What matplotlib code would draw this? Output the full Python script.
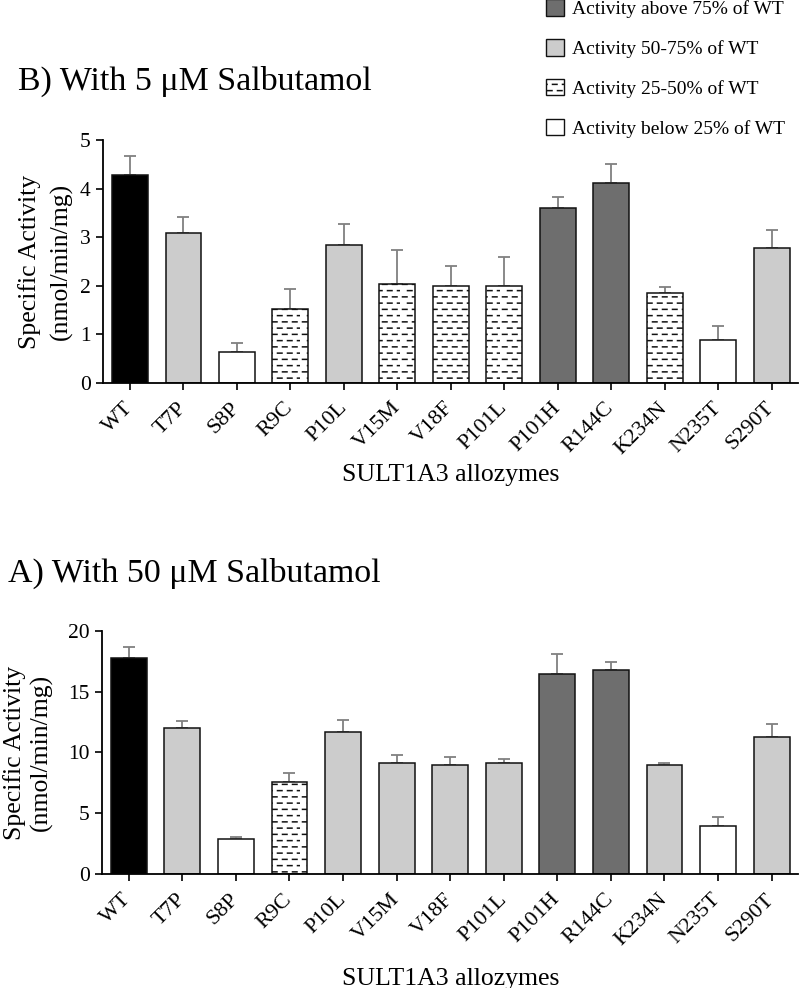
import warnings
import numpy as np
import matplotlib
matplotlib.use('Agg')
import matplotlib.pyplot as plt
from matplotlib import hatch as mhatch
from matplotlib.path import Path
from matplotlib.patches import Patch

warnings.filterwarnings('ignore')

allozymes = ['WT', 'T7P', 'S8P', 'R9C', 'P10L', 'V15M', 'V18F', 'P101L',
             'P101H', 'R144C', 'K234N', 'N235T', 'S290T']

# 5 uM salbutamol (panel B)
act_5 = [4.28, 3.09, 0.64, 1.52, 2.83, 2.04, 2.00, 2.00, 3.60, 4.12, 1.85, 0.88, 2.78]
err_5 = [0.39, 0.33, 0.19, 0.41, 0.44, 0.70, 0.41, 0.59, 0.23, 0.38, 0.13, 0.29, 0.37]
grp_5 = ['wt', 'mid', 'low', 'q', 'mid', 'q', 'q', 'q', 'high', 'high', 'q', 'low', 'mid']

# 50 uM salbutamol (panel A)
act_50 = [17.73, 12.01, 2.90, 7.60, 11.68, 9.14, 9.00, 9.11, 16.42, 16.77, 8.95, 3.99, 11.30]
err_50 = [0.90, 0.60, 0.19, 0.72, 0.99, 0.68, 0.60, 0.38, 1.64, 0.66, 0.19, 0.71, 1.01]
grp_50 = ['wt', 'mid', 'low', 'q', 'mid', 'mid', 'mid', 'mid', 'high', 'high', 'mid', 'low', 'mid']

legend_labels = ['Activity above 75% of WT', 'Activity 50-75% of WT',
                 'Activity 25-50% of WT', 'Activity below 25% of WT']


# short staggered dashes, like the excel "dashed horizontal" fill
class DashRows(mhatch.HatchPatternBase):
    def __init__(self, hatch, density):
        n = hatch.count('d')
        self.rows = 16 * n
        self.per_row = 10
        self.num_lines = self.rows * self.per_row if n else 0
        self.num_vertices = self.num_lines * 2

    def set_vertices_and_codes(self, vertices, codes):
        step = 1.0 / self.per_row
        k = 0
        for r in range(self.rows):
            y = (r + 0.5) / self.rows
            off = 0.25 * step if r % 2 == 0 else 0.75 * step
            for c in range(self.per_row):
                x0 = c * step + off
                vertices[k] = (x0, y)
                vertices[k + 1] = (x0 + 0.45 * step, y)
                codes[k] = Path.MOVETO
                codes[k + 1] = Path.LINETO
                k += 2


mhatch._hatch_types.append(DashRows)

plt.rcParams['font.family'] = ['Liberation Serif', 'DejaVu Serif']
plt.rcParams['hatch.linewidth'] = 1.1
plt.rcParams['hatch.color'] = '#111111'

styles = {
    'wt': dict(color='black', hatch=None),
    'high': dict(color='#6e6e6e', hatch=None),
    'mid': dict(color='#cccccc', hatch=None),
    'q': dict(color='white', hatch='d'),
    'low': dict(color='white', hatch=None),
}

fig = plt.figure(figsize=(8, 9.88), dpi=100)
ax1 = fig.add_axes([0.129, 0.6124, 0.869, 0.2459])
ax2 = fig.add_axes([0.1275, 0.1151, 0.8705, 0.2466])


def draw_panel(ax, vals, errs, grps, ymax, step, xlabpad, lsp):
    x = np.arange(len(allozymes))
    for i in range(len(vals)):
        st = styles[grps[i]]
        ax.bar(x[i], vals[i], width=0.67, color=st['color'], hatch=st['hatch'],
               edgecolor='#111111', linewidth=1.1, zorder=2)
    ax.errorbar(x, vals, yerr=[np.zeros(len(errs)), errs], fmt='none',
                ecolor='#808080', elinewidth=1.3, capsize=4, capthick=1.3, zorder=1)
    ax.set_xlim(-0.5, len(allozymes) - 0.5)
    ax.set_ylim(0, ymax)
    ax.set_yticks(np.arange(0, ymax + 0.1, step))
    ax.set_xticks(x)
    ax.set_xticklabels(allozymes, rotation=45, ha='right', va='center',
                       rotation_mode='anchor', fontsize=16)
    ax.tick_params(axis='y', labelsize=15.5, length=5, width=1.2, pad=4)
    ax.tick_params(axis='x', length=5, width=1.2, pad=11)
    for s in ['top', 'right']:
        ax.spines[s].set_visible(False)
    for s in ['left', 'bottom']:
        ax.spines[s].set_linewidth(1.3)
    ax.set_xlabel('SULT1A3 allozymes', fontsize=18.5, labelpad=xlabpad)
    ax.set_ylabel('Specific Activity\n(nmol/min/mg)', fontsize=18.5, linespacing=lsp)


draw_panel(ax1, act_5, err_5, grp_5, 5, 1, 4.5, 1.5)
draw_panel(ax2, act_50, err_50, grp_50, 20, 5, 13, 1.25)
ax1.yaxis.set_label_coords(-0.043, 0.5)
ax2.yaxis.set_label_coords(-0.070, 0.5)

fig.text(0.0225, 1 - 90 / 988, 'B) With 5 \u03bcM Salbutamol', fontsize=24.4, va='baseline')
fig.text(0.01, 1 - 582 / 988, 'A) With 50 \u03bcM Salbutamol', fontsize=24.4, va='baseline')

handles = [Patch(facecolor=styles[g]['color'], hatch=styles[g]['hatch'],
                 edgecolor='#111111', linewidth=1.0)
           for g in ['high', 'mid', 'q', 'low']]
fig.legend(handles, legend_labels, loc='upper left', bbox_to_anchor=(0.6725, 1.009),
           frameon=False, fontsize=14, handlelength=0.95, handleheight=0.95,
           handletextpad=0.4, labelspacing=1.07, borderaxespad=0)

fig.savefig('out.png', dpi=100)
